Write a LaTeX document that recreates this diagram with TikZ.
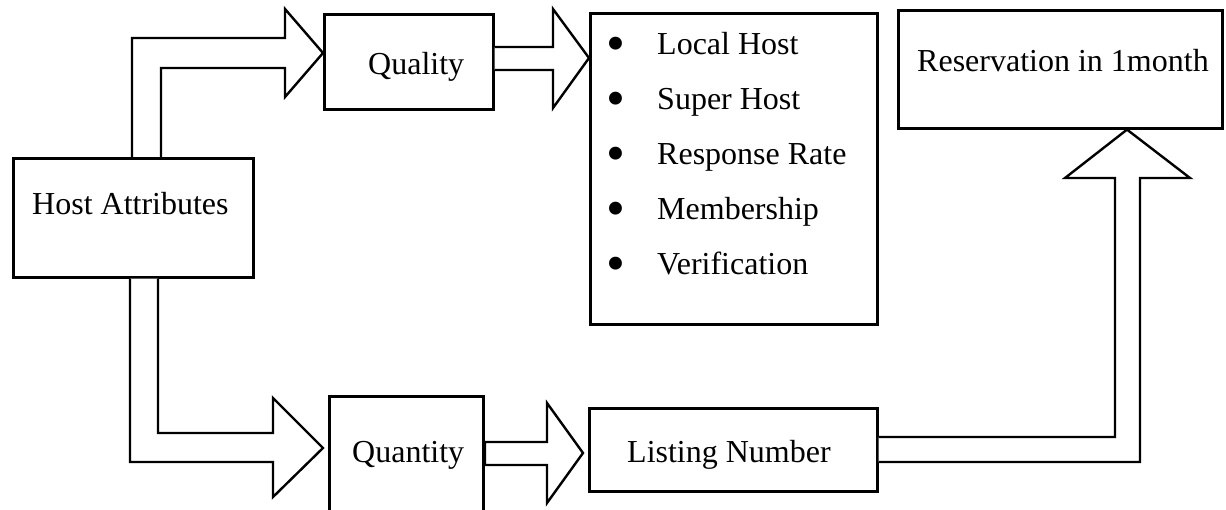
\documentclass[tikz,border=0pt]{standalone}
\usepackage{fontspec}
\setmainfont{Liberation Serif}
\begin{document}
\begin{tikzpicture}[x=1pt,y=-1pt,
  box/.style={draw=black,line width=2.6pt,fill=white,rectangle,inner sep=0pt,anchor=north west},
  blockarrow/.style={draw=black,line width=2.4pt,line join=miter,fill=white},
  lbl/.style={inner sep=0pt,font=\fontsize{32}{38}\selectfont,anchor=base west},
  bul/.style={inner sep=0pt,font=\fontsize{54}{60}\selectfont,anchor=base}]
\useasboundingbox (0,0) rectangle (1226,510);
% boxes
\node[box,minimum width=240pt,minimum height=119pt] (host) at (12,157) {};
\node[box,minimum width=169pt,minimum height=95pt] (quality) at (323,13) {};
\node[box,minimum width=287pt,minimum height=311pt] (list) at (589,12) {};
\node[box,minimum width=324pt,minimum height=118pt] (res) at (897,9) {};
\node[box,minimum width=288pt,minimum height=83pt] (listing) at (588,407) {};
\node[box,minimum width=154pt,minimum height=125pt] (quantity) at (328,395) {};
% labels
\node[lbl] (thost) at (32,215) {Host Attributes};
\node[lbl] (tquality) at (368,75) {Quality};
\node[lbl] (tres) at (917,72) {Reservation in 1month};
\node[lbl] (tquantity) at (352,462) {Quantity};
\node[lbl] (tlisting) at (627,462) {Listing Number};
\foreach \t [count=\i] in {Local Host,Super Host,Response Rate,Membership,Verification}{
  \node[bul] (b\i) at (616,{55*\i+7}) {\textbullet};
  \node[lbl] (item\i) at (657,{55*\i}) {\t};
}
% block arrows
\draw[blockarrow] (132,0 |- host.north) -- (132,38) -- (285,38) -- (285,9) -- (quality.west |- 0,53)
  -- (285,97) -- (285,68) -- (161,68) -- (161,0 |- host.north);
\draw[blockarrow] (quality.east |- 0,47) -- (553,47) -- (553,9) -- (list.west |- 0,58)
  -- (553,108) -- (553,70) -- (quality.east |- 0,70);
\draw[blockarrow] (130,0 |- host.south) -- (130,462) -- (273,462) -- (273,497) -- (323,448)
  -- (273,398) -- (273,433) -- (158,433) -- (158,0 |- host.south);
\draw[blockarrow] (485,442) -- (547,442) -- (547,403) -- (583,453) -- (547,503) -- (547,465) -- (485,465) -- cycle;
\draw[blockarrow] (listing.east |- 0,437) -- (1115,437) -- (1115,178) -- (1065,178) -- (1127,0 |- res.south)
  -- (1190,178) -- (1140,178) -- (1140,462) -- (listing.east |- 0,462);
\end{tikzpicture}
\end{document}
